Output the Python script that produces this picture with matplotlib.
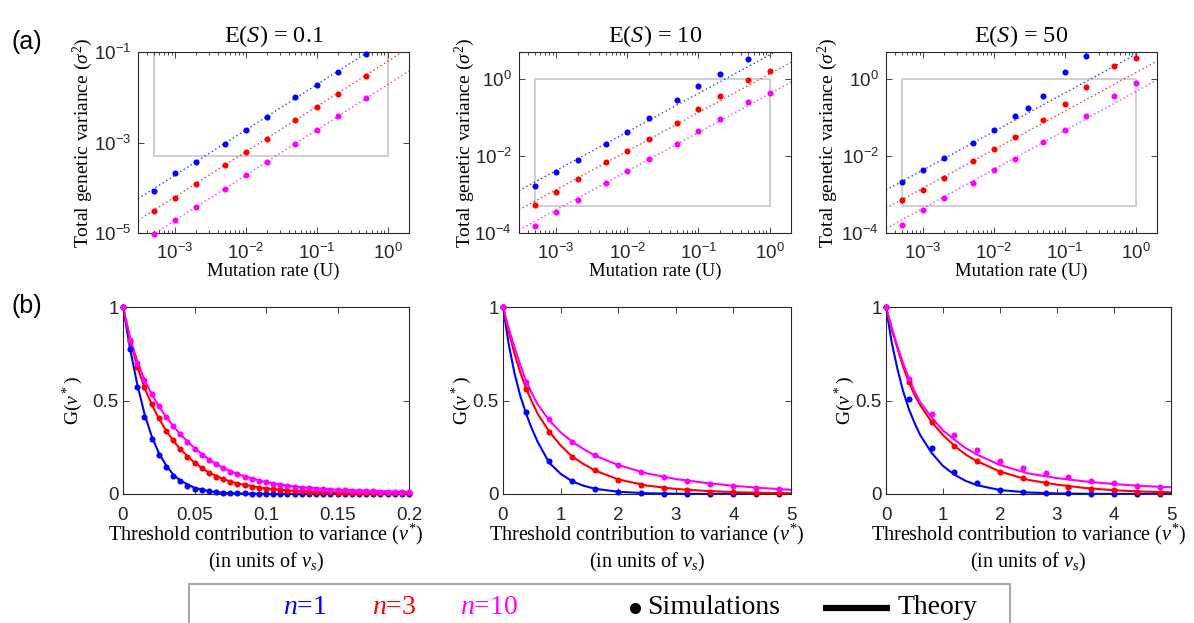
import numpy as np
import matplotlib
matplotlib.use("Agg")
import matplotlib.pyplot as plt
from matplotlib.lines import Line2D
from matplotlib.patches import Rectangle

plt.rcParams['font.family'] = 'Liberation Sans'
plt.rcParams['mathtext.fontset'] = 'custom'
plt.rcParams['mathtext.rm'] = 'Liberation Serif'
plt.rcParams['mathtext.it'] = 'Liberation Serif:italic'
plt.rcParams['mathtext.bf'] = 'Liberation Serif:bold'

BLUE, RED, MAGENTA = '#0000ff', '#ff0000', '#ff00ff'
AXC = '#262626'
SERIF = 'Liberation Serif'

# ---- (a) total genetic variance vs mutation rate ----
mut_rate = [5e-4, 1e-3, 2e-3, 5e-3, 1e-2, 2e-2, 5e-2, 0.1, 0.2, 0.5, 1.0]
mut_rate_blue3 = [5e-4, 1e-3, 2e-3, 5e-3, 1e-2, 2e-2, 3e-2, 5e-2, 0.1, 0.2]
theory_U = [3e-4, 2.0]

var_es01 = {
    'n1': [8.5e-5, 2.1e-4, 3.8e-4, 9.5e-4, 1.9e-3, 3.6e-3, 1.0e-2, 1.9e-2, 3.7e-2, 9.1e-2],
    'n3': [3.1e-5, 6.0e-5, 1.2e-4, 3.2e-4, 6.2e-4, 1.2e-3, 3.1e-3, 6.2e-3, 1.2e-2, 3.0e-2],
    'n10': [9.5e-6, 1.9e-5, 3.7e-5, 9.3e-5, 1.9e-4, 3.7e-4, 9.3e-4, 1.9e-3, 3.9e-3, 9.5e-3],
}
var_es10 = {
    'n1': [1.7e-3, 3.9e-3, 7.9e-3, 2.0e-2, 4.3e-2, 9.5e-2, 0.28, 0.65, 1.37, 3.2],
    'n3': [5.3e-4, 1.15e-3, 2.45e-3, 6.9e-3, 1.35e-2, 2.75e-2, 7.2e-2, 0.165, 0.37, 0.96, 1.58],
    'n10': [1.5e-4, 3.6e-4, 7.2e-4, 1.95e-3, 4.0e-3, 8.1e-3, 2.1e-2, 4.4e-2, 9.3e-2, 0.245, 0.44],
}
var_es50 = {
    'n1': [2.1e-3, 4.2e-3, 9.1e-3, 2.2e-2, 4.8e-2, 0.107, 0.178, 0.37, 1.49, 4.0],
    'n3': [7.3e-4, 1.27e-3, 2.6e-3, 7.6e-3, 1.55e-2, 3.1e-2, 8.5e-2, 0.22, 0.62, 2.2, 3.4],
    'n10': [1.6e-4, 3.9e-4, 7.9e-4, 2.0e-3, 4.4e-3, 8.1e-3, 2.3e-2, 4.8e-2, 0.107, 0.36, 0.80],
}
# theory lines evaluated at the two ends of the U axis
line_es01 = {'n1': [5.7e-5, 0.38], 'n3': [1.9e-5, 0.124], 'n10': [5.7e-6, 0.038]}
line_es10 = {'n1': [1.26e-3, 8.4], 'n3': [4.0e-4, 2.7], 'n10': [1.2e-4, 0.82]}
line_es50 = {'n1': [1.3e-3, 8.6], 'n3': [4.4e-4, 2.9], 'n10': [1.3e-4, 0.94]}

# ---- (b) G(v*) curves ----
thr_sim_01 = np.linspace(0, 0.2, 41)
g_sim_01 = {
    'n1': [1.0, .773, .570, .414, .295, .211, .142, .094, .069, .044, .027, .020, .014, .011,
           .007, .005, .004, .003, .002, .002, .001, .001, .001] + [0.0] * 18,
    'n3': [1.0, .82, .677, .57, .48, .407, .339, .29, .24, .20, .167, .137, .112, .092, .08,
           .066, .055, .046, .039, .034, .028, .025, .021, .018, .016, .014, .012, .011, .010,
           .009, .008, .007, .006, .006, .005, .005, .004, .004, .004, .003, .003],
    'n10': [1.0, .826, .70, .61, .535, .47, .414, .364, .32, .277, .242, .21, .183, .16, .139,
            .12, .105, .092, .082, .071, .062, .055, .048, .043, .037, .034, .030, .027, .025,
            .023, .021, .020, .018, .016, .015, .014, .013, .012, .012, .011, .010],
}
thr_th_01 = [0, .005, .01, .015, .02, .025, .03, .035, .04, .05, .06, .07, .08, .1, .12, .15, .2]
g_th_01 = {
    'n1': [1, .775, .585, .43, .31, .22, .155, .105, .072, .033, .015, .006, .003, .0005, 0, 0, 0],
    'n3': [1, .82, .68, .57, .48, .405, .34, .287, .24, .167, .115, .08, .056, .029, .017, .009, .004],
    'n10': [1, .835, .71, .61, .535, .47, .414, .364, .32, .245, .185, .14, .106, .063, .04, .023, .011],
}

thr_sim = [0, .4, .8, 1.2, 1.6, 2.0, 2.4, 2.8, 3.2, 3.6, 4.0, 4.4, 4.8]
thr_th = [0, .1, .2, .3, .4, .5, .6, .8, 1.0, 1.2, 1.4, 1.6, 2.0, 2.5, 3, 3.5, 4, 4.5, 5]
g_sim_10 = {
    'n1': [1, .44, .178, .068, .025, .011, .004, .002, .001, 0, 0, 0, 0],
    'n3': [1, .56, .334, .20, .126, .077, .05, .031, .02, .013, .009, .005, .003],
    'n10': [1, .60, .40, .28, .21, .157, .12, .09, .068, .053, .042, .034, .026],
}
g_th_10 = {
    'n1': [1, .80, .645, .525, .43, .35, .28, .168, .108, .068, .044, .028, .012, .004, .0015, .0005, .0002, 0, 0],
    'n3': [1, .865, .75, .65, .565, .495, .43, .335, .26, .20, .16, .125, .078, .045, .027, .017, .01, .006, .004],
    'n10': [1, .885, .785, .69, .605, .54, .48, .395, .33, .28, .24, .205, .155, .11, .08, .06, .044, .032, .022],
}
g_sim_50 = {
    'n1': [1, .506, .247, .117, .057, .023, .012, .005, .003, .002, .001, 0, 0],
    'n3': [1, .60, .387, .258, .178, .119, .083, .057, .039, .028, .02, .012, .007],
    'n10': [1, .615, .43, .314, .234, .179, .137, .11, .089, .071, .057, .044, .037],
}
g_th_50 = {
    'n1': [1, .81, .67, .55, .455, .38, .315, .22, .15, .103, .07, .047, .021, .008, .003, .001, .0005, .0002, 0],
    'n3': [1, .88, .78, .68, .60, .53, .475, .385, .315, .258, .21, .175, .12, .075, .05, .032, .02, .013, .009],
    'n10': [1, .89, .79, .70, .62, .55, .49, .41, .34, .29, .245, .21, .155, .11, .085, .067, .053, .043, .036],
}

series_colors = {'n1': BLUE, 'n3': RED, 'n10': MAGENTA}
titles = [r'E($S$) = 0.1', r'E($S$) = 10', r'E($S$) = 50']

W, H = 1194, 623
fig = plt.figure(figsize=(W / 100, H / 100), dpi=100)


def px_axes(x0, y0, x1, y1):
    return fig.add_axes([x0 / W, 1 - y1 / H, (x1 - x0) / W, (y1 - y0) / H])


def style(ax):
    for sp in ax.spines.values():
        sp.set_color(AXC)
        sp.set_linewidth(0.8)
    ax.tick_params(which='both', direction='in', top=True, right=True, color=AXC,
                   labelcolor=AXC, labelsize=13.5, width=0.6)
    ax.tick_params(which='major', length=4)
    ax.tick_params(which='minor', length=2)


top_boxes = [(138, 52, 409, 233), (519, 52, 791, 233), (886, 52, 1157, 233)]
bot_boxes = [(123, 307, 409, 494), (503, 307, 791, 494), (886, 307, 1171, 494)]
top_sets = [(var_es01, line_es01), (var_es10, line_es10), (var_es50, line_es50)]
top_ylims = [(1e-5, 1e-1), (1e-4, 5), (1e-4, 5)]
top_yticks = [[1e-5, 1e-3, 1e-1], [1e-4, 1e-2, 1e0], [1e-4, 1e-2, 1e0]]
top_ylab_x = [-0.16, -0.155, -0.17]

for i, (box, (pts, lines)) in enumerate(zip(top_boxes, top_sets)):
    ax = px_axes(*box)
    style(ax)
    ax.set_xscale('log')
    ax.set_yscale('log')
    ax.set_xlim(3e-4, 2)
    ax.set_ylim(*top_ylims[i])
    ax.add_patch(Rectangle((5e-4, 5e-4), 1 - 5e-4, 1 - 5e-4, fill=False,
                           edgecolor='#c8c8c8', lw=1.2, zorder=1))
    for key in ['n1', 'n3', 'n10']:
        c = series_colors[key]
        ax.plot(theory_U, lines[key], ls=(0, (1, 2)), color=c, lw=1.0, alpha=0.8, zorder=2)
        xs = mut_rate_blue3 if (i == 2 and key == 'n1') else mut_rate[:len(pts[key])]
        ax.plot(xs, pts[key], 'o', color=c, ms=4.4, mew=0, zorder=3, clip_on=False)
    ax.set_xticks([1e-3, 1e-2, 1e-1, 1e0])
    ax.set_yticks(top_yticks[i])
    ax.yaxis.set_minor_locator(matplotlib.ticker.NullLocator())
    ax.tick_params(axis='x', which='major', pad=7)
    ax.tick_params(axis='y', which='major', pad=5)
    ax.set_title(titles[i], family=SERIF, fontsize=17.5, color='black', pad=7)
    ax.set_xlabel('Mutation rate (U)', family=SERIF, fontsize=13.5)
    ax.set_ylabel(r'Total genetic variance ($\sigma^2$)', family=SERIF, fontsize=14)
    ax.xaxis.set_label_coords(0.5, -0.165)
    ax.yaxis.set_label_coords(top_ylab_x[i], 0.5)

bot_sets = [(thr_sim_01, g_sim_01, thr_th_01, g_th_01),
            (thr_sim, g_sim_10, thr_th, g_th_10),
            (thr_sim, g_sim_50, thr_th, g_th_50)]
bot_xlims = [0.2, 5, 5]
bot_xticks = [[0, 0.05, 0.1, 0.15, 0.2], [0, 1, 2, 3, 4, 5], [0, 1, 2, 3, 4, 5]]
bot_xticklabels = [['0', '0.05', '0.1', '0.15', '0.2'], ['0', '1', '2', '3', '4', '5'],
                   ['0', '1', '2', '3', '4', '5']]
bot_ylab_x = [-0.133, -0.10, -0.102]

for i, (box, (xs, sims, xt, ths)) in enumerate(zip(bot_boxes, bot_sets)):
    ax = px_axes(*box)
    style(ax)
    ax.set_xlim(0, bot_xlims[i])
    ax.set_ylim(0, 1)
    for key in ['n1', 'n3', 'n10']:
        c = series_colors[key]
        ax.plot(xt, ths[key], '-', color=c, lw=1.5, zorder=2)
        ax.plot(xs, sims[key], 'o', color=c, ms=4.4, mew=0, zorder=3, clip_on=False)
    ax.set_xticks(bot_xticks[i])
    ax.set_xticklabels(bot_xticklabels[i])
    ax.set_yticks([0, 0.5, 1])
    ax.set_yticklabels(['0', '0.5', '1'])
    ax.tick_params(axis='x', pad=9)
    ax.tick_params(axis='y', pad=3)
    ax.set_xlabel('Threshold contribution to variance ($v^{*}$)\n(in units of $v_s$)',
                  family=SERIF, fontsize=14.5, linespacing=1.2)
    ax.set_ylabel(r'G($v^*$)', family=SERIF, fontsize=14)
    ax.xaxis.set_label_coords(0.5, -0.15)
    ax.yaxis.set_label_coords(bot_ylab_x[i], 0.5)

# panel letters
fig.text(27 / W, 1 - 42 / H, '(a)', fontsize=18, ha='center', va='center', color='black')
fig.text(27 / W, 1 - 306 / H, '(b)', fontsize=18, ha='center', va='center', color='black')

# shared legend box along the bottom edge
fig.patches.append(Rectangle((189 / W, -0.05), (1010 - 189) / W, 1 - 584 / H + 0.05,
                             transform=fig.transFigure, fill=False,
                             edgecolor='#a8a8a8', lw=1.5))
ly = 1 - 608 / H
for label, xc, c in [('$n$=1', 305, BLUE), ('$n$=3', 394, RED), ('$n$=10', 489, MAGENTA)]:
    fig.text(xc / W, ly, label, color=c, fontsize=20, family=SERIF, ha='center', va='center')
fig.lines.append(Line2D([635 / W], [ly], marker='o', ms=8, color='black', mew=0,
                        transform=fig.transFigure))
fig.text(647 / W, ly, 'Simulations', fontsize=20, family=SERIF, ha='left', va='center')
fig.lines.append(Line2D([823 / W, 890 / W], [ly, ly], lw=4.5, color='black',
                        solid_capstyle='butt', transform=fig.transFigure))
fig.text(897 / W, ly, 'Theory', fontsize=20, family=SERIF, ha='left', va='center')

fig.savefig('out.png', dpi=100, facecolor='white')
